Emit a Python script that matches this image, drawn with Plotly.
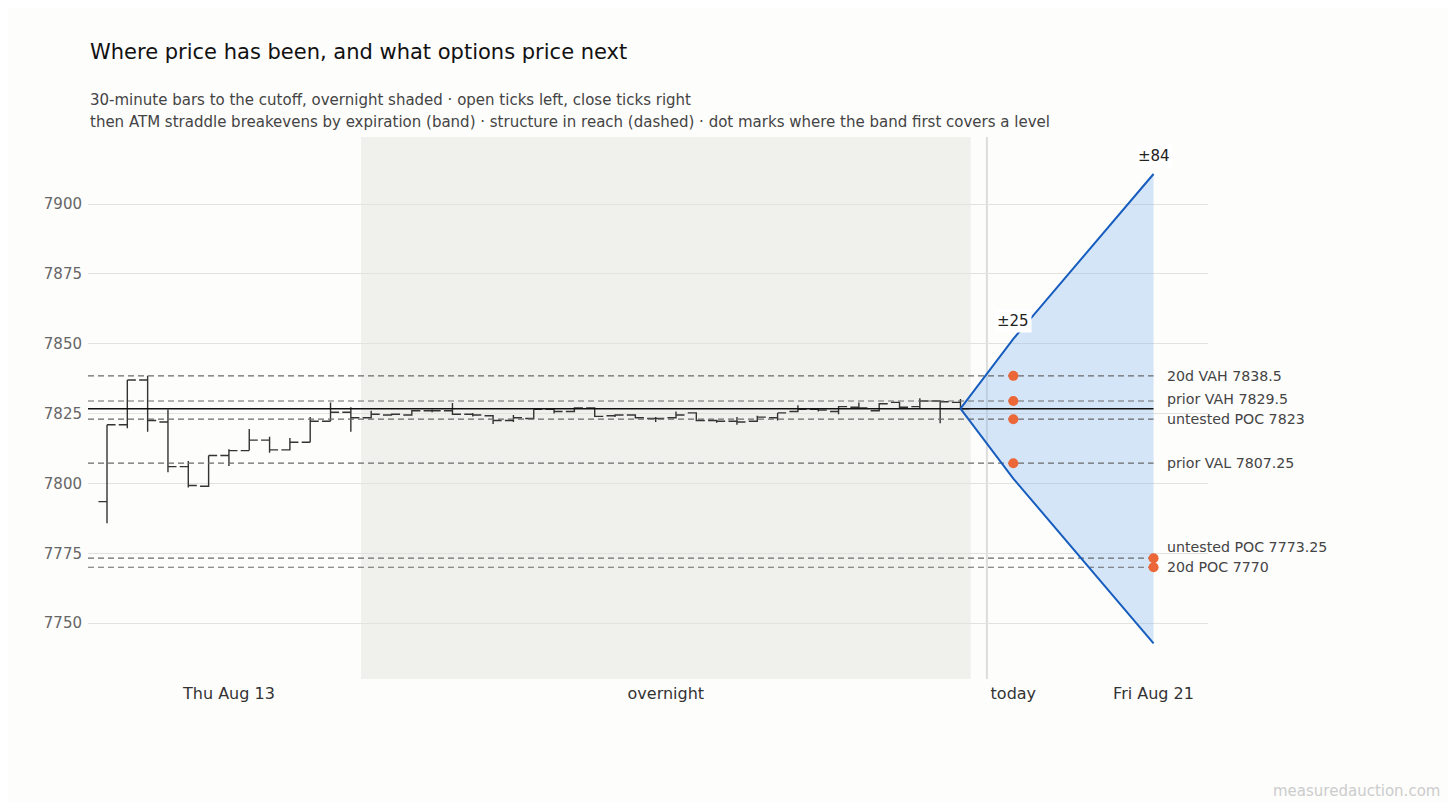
import plotly.graph_objects as go

# 30-minute bars, index 0..42 (0-12 regular session, 13-42 overnight)
bar_open = [7793.5, 7821, 7837, 7822, 7806, 7799, 7810, 7811.75, 7815.5, 7812, 7814.75, 7822.25, 7825.5,
            7823.5, 7824.5, 7824.5, 7826, 7826, 7824.75, 7824.25, 7822.5, 7823.25, 7826.5, 7825.75, 7827,
            7824.25, 7824.5, 7823.25, 7823.5, 7825.25, 7822.5, 7822.25, 7822.25, 7823.5, 7825.75, 7826.5,
            7825.75, 7827.25, 7826, 7829, 7827.5, 7829.5, 7829]
bar_high = [7821, 7837, 7838.5, 7826.5, 7808, 7810, 7812.25, 7819.5, 7816.75, 7816.25, 7823.75, 7829, 7827.25,
            7826, 7825, 7826.25, 7826.5, 7828.75, 7825.25, 7824.5, 7824.5, 7826.5, 7826.75, 7827.25, 7827.25,
            7824.75, 7824.75, 7823.75, 7825.75, 7825.5, 7822.75, 7823.75, 7824.25, 7825.25, 7828, 7827,
            7827.75, 7829, 7828.75, 7829.25, 7830.5, 7829.75, 7830.25]
bar_low = [7785.75, 7819.75, 7818.5, 7804, 7798.5, 7798.75, 7806.25, 7811.75, 7811, 7811.75, 7814.75, 7822.25, 7818.5,
           7823.25, 7824.25, 7824.25, 7825.5, 7824.5, 7824, 7821.25, 7822, 7823, 7825, 7825.5, 7823.75,
           7823.75, 7823.25, 7822, 7823.25, 7822.25, 7821.75, 7821, 7822, 7822.5, 7825.5, 7825.75,
           7824.75, 7826.75, 7825.75, 7827, 7826.75, 7821.5, 7826.5]
bar_close = [7821, 7837, 7822.5, 7806, 7799.25, 7810, 7811.75, 7815.5, 7812, 7814.75, 7822.25, 7825.5, 7823.5,
             7824.75, 7824.75, 7826, 7826, 7824.75, 7824.5, 7822.5, 7823.5, 7826.5, 7825.75, 7827, 7824,
             7824.5, 7823.5, 7823.25, 7824.5, 7822.5, 7822.25, 7822, 7823.75, 7825.25, 7826.5, 7826.25,
             7827.5, 7827, 7828.5, 7827.25, 7829.5, 7829.25, 7826.75]
rth_bars = 13

# expirations and ATM straddle breakevens
exp_labels = ["today", "Fri Aug 21"]
exp_x = [44.6, 51.5]
exp_move = [25, 84]

# structure levels
level_names = ["20d VAH", "prior VAH", "untested POC", "prior VAL", "untested POC", "20d POC"]
level_prices = [7838.5, 7829.5, 7823, 7807.25, 7773.25, 7770]

y_ticks = [7750, 7775, 7800, 7825, 7850, 7875, 7900]

n = len(bar_close)
bars_x = list(range(n))
last = bar_close[-1]
x_min, x_max = -0.935, 54.18
y_min, y_max = 7730, 7924

BLUE = "#165dbe"
ORANGE = "#ec6737"
FONT = "DejaVu Sans"
BG = "#fdfdfc"

fig = go.Figure()

# straddle band fill
band_x = [bars_x[-1]] + exp_x + exp_x[::-1]
band_y = [last] + [last + m for m in exp_move] + [last - m for m in exp_move[::-1]]
fig.add_trace(go.Scatter(x=band_x, y=band_y, fill="toself", mode="none",
                         fillcolor="rgba(123,176,240,0.3)", hoverinfo="skip", showlegend=False))

# dashed structure levels
for p in level_prices:
    fig.add_trace(go.Scatter(x=[x_min, exp_x[-1]], y=[p, p], mode="lines",
                             line=dict(color="#6a6a6a", width=1.2, dash="6px,4px"),
                             hoverinfo="skip", showlegend=False))

# price bars
fig.add_trace(go.Ohlc(x=bars_x, open=bar_open, high=bar_high, low=bar_low, close=bar_close,
                      increasing_line_color="#333333", decreasing_line_color="#333333",
                      line_width=1.4, tickwidth=0.42, showlegend=False))

# last price
fig.add_trace(go.Scatter(x=[x_min, exp_x[-1]], y=[last, last], mode="lines",
                         line=dict(color="#111111", width=1.6), hoverinfo="skip", showlegend=False))

# band edges
for sign in (1, -1):
    fig.add_trace(go.Scatter(x=[bars_x[-1]] + exp_x, y=[last] + [last + sign * m for m in exp_move],
                             mode="lines", line=dict(color=BLUE, width=2),
                             hoverinfo="skip", showlegend=False))

# dots: first expiration whose band covers each level
dot_x, dot_y = [], []
for p in level_prices:
    for ex, m in zip(exp_x, exp_move):
        if abs(p - last) <= m:
            dot_x.append(ex)
            dot_y.append(p)
            break
fig.add_trace(go.Scatter(x=dot_x, y=dot_y, mode="markers",
                         marker=dict(color=ORANGE, size=10), hoverinfo="skip", showlegend=False))

# geometry for pixel offsets (page has an 8px body margin)
plot_top, plot_h = 129, 542
def ypx(v):
    return plot_top + (y_max - v) / (y_max - y_min) * plot_h

annotations = []
# level labels, pushed apart from the bottom up
order = sorted(range(len(level_prices)), key=lambda i: level_prices[i])
prev = None
for i in order:
    target = ypx(level_prices[i])
    pos = target if prev is None else min(target, prev - 20)
    prev = pos
    txt = f"{level_names[i]} {level_prices[i]:g}"
    annotations.append(dict(x=exp_x[-1], y=level_prices[i], xref="x", yref="y", text=txt,
                            showarrow=False, xanchor="left", xshift=11, yshift=target - pos,
                            font=dict(size=14.2, color="#444444", family=FONT)))

# move labels
for ex, m in zip(exp_x, exp_move):
    annotations.append(dict(x=ex, y=last + m, xref="x", yref="y", text=f"±{m}", showarrow=False,
                            yshift=18, bgcolor="#ffffff", borderpad=2,
                            font=dict(size=15, color="#222222", family=FONT)))

annotations += [
    dict(x=0, y=1.157, xref="paper", yref="paper", xanchor="left", yanchor="middle", showarrow=False,
         text="Where price has been, and what options price next",
         font=dict(size=21, color="#111111", family=FONT)),
    dict(x=0, y=1.068, xref="paper", yref="paper", xanchor="left", yanchor="middle", showarrow=False,
         text="30-minute bars to the cutoff, overnight shaded · open ticks left, close ticks right",
         font=dict(size=15, color="#444444", family=FONT)),
    dict(x=0, y=1.0285, xref="paper", yref="paper", xanchor="left", yanchor="middle", showarrow=False,
         text="then ATM straddle breakevens by expiration (band) · structure in reach (dashed) · dot marks where the band first covers a level",
         font=dict(size=15, color="#444444", family=FONT)),
    dict(x=1.209, y=-0.2066, xref="paper", yref="paper", xanchor="right", yanchor="middle", showarrow=False,
         text="measuredauction.com", font=dict(size=15, color="#cccccc", family=FONT)),
]

shapes = [
    dict(type="rect", xref="x", yref="paper", x0=rth_bars - 0.5, x1=n - 0.5, y0=0, y1=1,
         fillcolor="#f0f0ec", line_width=0, layer="below"),
    dict(type="line", xref="x", yref="paper", x0=43.3, x1=43.3, y0=0, y1=1,
         line=dict(color="#dddddd", width=2), layer="below"),
]

fig.update_layout(
    width=1440, height=794,
    margin=dict(l=80, r=240, t=129, b=123),
    paper_bgcolor=BG, plot_bgcolor=BG,
    font=dict(family=FONT, color="#333333"),
    shapes=shapes, annotations=annotations,
    showlegend=False,
    xaxis=dict(range=[x_min, x_max], rangeslider=dict(visible=False), showgrid=False, zeroline=False,
               showline=False, ticks="", ticklabelstandoff=3,
               tickvals=[(rth_bars - 1) / 2, (rth_bars + n - 1) / 2] + exp_x,
               ticktext=["Thu Aug 13", "overnight"] + exp_labels,
               tickfont=dict(size=16, color="#333333")),
    yaxis=dict(range=[y_min, y_max], tickvals=y_ticks, showgrid=True, gridcolor="#e2e2df", gridwidth=1,
               zeroline=False, showline=False, ticks="", ticklabelstandoff=5,
               tickfont=dict(size=15, color="#666666")),
)

fig.write_html("out.html")
